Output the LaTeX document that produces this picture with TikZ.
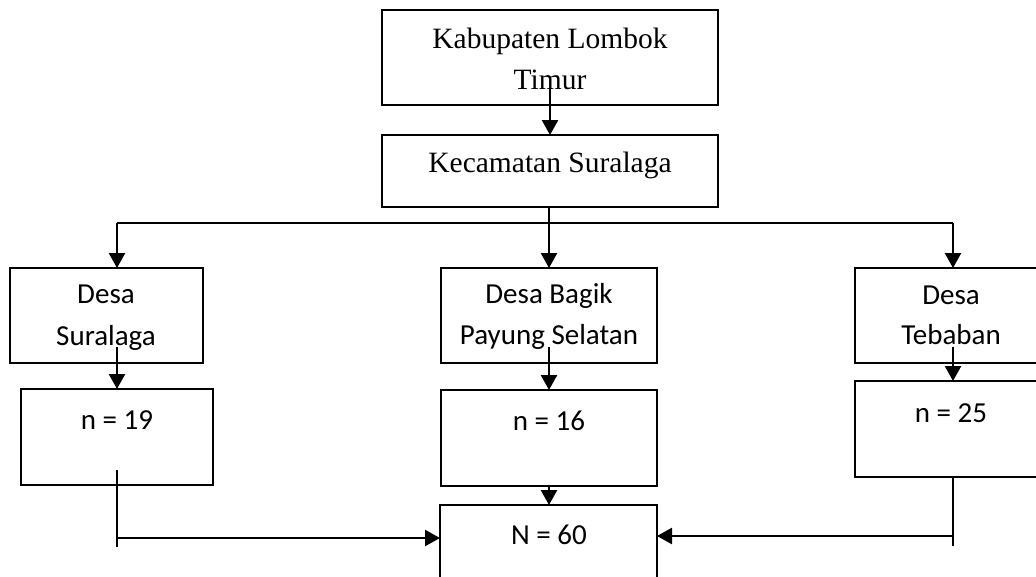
\documentclass[tikz,border=0pt]{standalone}
\usepackage{fontspec}
\setmainfont{Liberation Serif}
\newfontfamily\calibri{Carlito}
\usetikzlibrary{arrows.meta}
\begin{document}
\begin{tikzpicture}[x=1pt,y=-1pt,
  box/.style={draw=black,line width=1.8pt,inner sep=0pt,outer sep=0pt,fill=none},
  serif/.style={anchor=base,inner sep=0pt,font=\fontsize{29.5}{34}\selectfont},
  sans/.style={anchor=base,inner sep=0pt,font=\calibri\fontsize{29}{34}\selectfont},
  arr/.style={line width=2.4pt,-{Triangle[width=16pt,length=15pt]}},
  ln/.style={line width=1.8pt}]
\useasboundingbox (0,0) rectangle (1036,576);
\clip (0,0) rectangle (1036,576);
% boxes
\node[box,minimum width=336pt,minimum height=95pt] (kab) at (550,57.5) {};
\node[box,minimum width=336pt,minimum height=72pt] (kec) at (550,171) {};
\node[box,minimum width=193pt,minimum height=95pt] (ds) at (106.5,315.5) {};
\node[box,minimum width=216pt,minimum height=95pt] (db) at (549,315.5) {};
\node[box,minimum width=192pt,minimum height=95pt] (dt) at (951,315.5) {};
\node[box,minimum width=192pt,minimum height=96pt] (n19) at (117,437) {};
\node[box,minimum width=216pt,minimum height=96pt] (n16) at (549,438) {};
\node[box,minimum width=192pt,minimum height=96pt] (n25) at (951,429) {};
\node[box,minimum width=217pt,minimum height=95pt] (N60) at (548.5,552.5) {};
% texts
\node[serif] (t1) at (550,48) {Kabupaten Lombok};
\node[serif] (t2) at (550,89) {Timur};
\node[serif] (t3) at (550,172) {Kecamatan Suralaga};
\node[sans] (t4) at (106,303) {Desa};
\node[sans] (t5) at (106,345) {Suralaga};
\node[sans] (t6) at (549,303) {Desa Bagik};
\node[sans] (t7) at (549,344) {Payung Selatan};
\node[sans] (t8) at (951,304) {Desa};
\node[sans] (t9) at (951,344) {Tebaban};
\node[sans] (t10) at (117,429) {n = 19};
\node[sans] (t11) at (549,430) {n = 16};
\node[sans] (t12) at (951,422) {n = 25};
\node[sans] (t13) at (549,544) {N = 60};
% coordinates
\coordinate (a0) at (550,89);
\coordinate (bl) at (117,223);
\coordinate (br) at (953,223);
\coordinate (bm) at (549,223);
\coordinate (s1) at (117,347);
\coordinate (s2) at (549,347);
\coordinate (s3) at (953,347);
\coordinate (l0) at (117,470);
\coordinate (l1) at (117,547);
\coordinate (l2) at (117,538);
\coordinate (r0) at (953,477);
\coordinate (r1) at (953,546);
\coordinate (r2) at (953,536);
% connectors
\draw[arr] (a0) -- (kab.south -| a0) -- (kec.north -| a0);
\draw[arr] (kec.south -| bm) -- (db.north -| bm);
\draw[ln] (bl) -- (br);
\draw[arr] (bl) -- (ds.north -| bl);
\draw[arr] (br) -- (dt.north -| br);
\draw[arr] (s1) -- (n19.north -| s1);
\draw[arr] (s2) -- (n16.north -| s2);
\draw[arr] (s3) -- (n25.north -| s3);
\draw[arr] (n16.south -| s2) -- (N60.north -| s2);
\draw[ln] (l0) -- (l1);
\draw[arr] (l2) -- (N60.west |- l2);
\draw[ln] (r0) -- (r1);
\draw[arr] (r2) -- (N60.east |- r2);
\end{tikzpicture}
\end{document}
